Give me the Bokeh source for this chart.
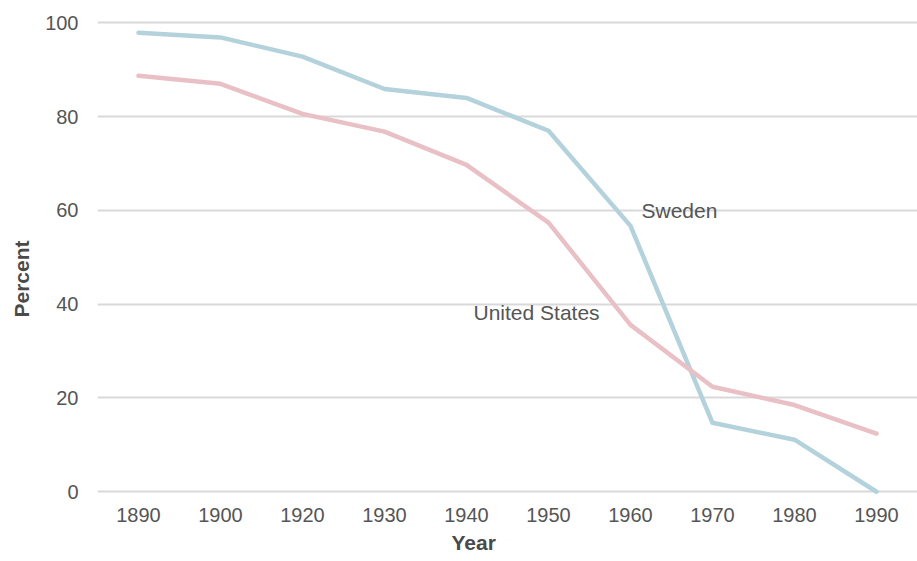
from bokeh.plotting import figure
from bokeh.models import Range1d, FactorRange, Title
from bokeh.core.properties import value
from bokeh.embed import file_html
from bokeh.resources import INLINE

years = ["1890", "1900", "1920", "1930", "1940", "1950", "1960", "1970", "1980", "1990"]
sweden = [97.9, 96.9, 92.8, 85.9, 84.0, 77.0, 56.7, 14.7, 11.1, 0.0]
united_states = [88.7, 87.0, 80.6, 76.8, 69.7, 57.4, 35.6, 22.4, 18.5, 12.4]
y_ticks = [0, 20, 40, 60, 80, 100]

FONT = "Liberation Sans"
TXT = "#555555"
LBL = "#4a4a4a"

p = figure(x_range=FactorRange(factors=years, range_padding=0),
           y_range=Range1d(-0.8, 102),
           frame_width=820, frame_height=482,
           min_border_left=97, min_border_right=0, min_border_top=13, min_border_bottom=0,
           output_backend="svg", toolbar_location=None)

p.outline_line_color = None
p.background_fill_color = "white"
p.border_fill_color = "white"

p.line(years, sweden, line_color="#b4d2dc", line_width=4.5, line_cap="round", line_join="round")
p.line(years, united_states, line_color="#e9c0c5", line_width=4.5, line_cap="round", line_join="round")

p.text(x=["1960"], y=[60], text=["Sweden"], x_offset=11, text_baseline="middle", text_align="left",
       text_font=value(FONT), text_font_size="21px", text_color=TXT)
p.text(x=["1950"], y=[38.2], text=["United States"], x_offset=-75, text_baseline="middle", text_align="left",
       text_font=value(FONT), text_font_size="21px", text_color=TXT)

p.xgrid.grid_line_color = None
p.ygrid.grid_line_color = "#d9d9d9"
p.ygrid.grid_line_width = 2
p.yaxis.ticker = y_ticks

for ax in (p.xaxis[0], p.yaxis[0]):
    ax.axis_line_color = None
    ax.major_tick_line_color = None
    ax.minor_tick_line_color = None
    ax.major_tick_out = 0
    ax.major_tick_in = 0
    ax.minor_tick_out = 0
    ax.minor_tick_in = 0
    ax.major_label_text_font = FONT
    ax.major_label_text_font_size = "20px"
    ax.major_label_text_color = TXT

p.xaxis.major_label_standoff = 12
p.yaxis.major_label_standoff = 19

year_title = Title(text="Year", align="left", offset=354, vertical_align="top", standoff=12,
                   text_font=FONT, text_font_size="21px", text_font_style="bold", text_color=LBL)
p.add_layout(year_title, "below")
pct_title = Title(text="Percent", align="left", offset=178, vertical_align="top", standoff=15,
                  text_font=FONT, text_font_size="21px", text_font_style="bold", text_color=LBL)
p.add_layout(pct_title, "left")

open("out.html", "w").write(file_html(p, INLINE))
